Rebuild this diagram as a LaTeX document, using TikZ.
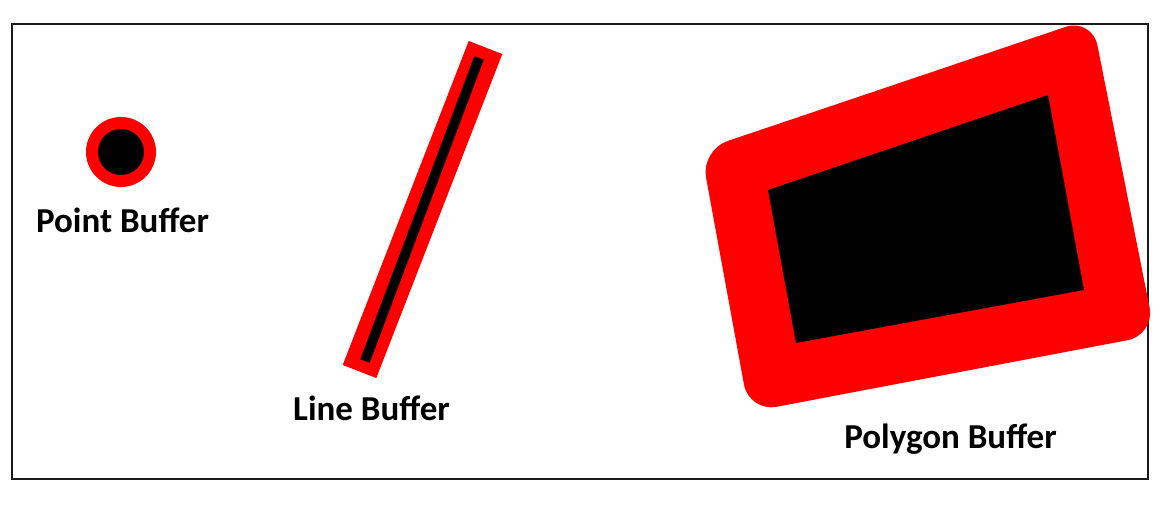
\documentclass[tikz,border=0pt]{standalone}
\usepackage{fontspec}
\setmainfont{Carlito}
\definecolor{bufRed}{HTML}{FF0000}
\definecolor{bufCore}{HTML}{000000}
\definecolor{bufFrame}{HTML}{1A1A1A}
\tikzset{
  buf frame/.style={draw=bufFrame, line width=1.3pt},
  buf zone/.style={fill=bufRed},
  buf core/.style={fill=bufCore},
  buf label/.style={font=\fontsize{35}{42}\selectfont\bfseries, text=bufCore, anchor=base, inner sep=0pt},
}

\begin{document}
\begin{tikzpicture}[x=1pt, y=-1pt]
  \useasboundingbox (0,0) rectangle (1166,510);
  % Outer frame
  \draw[buf frame] (12,24) rectangle (1148,479);
  % Point buffer: ring round a dot
  \fill[buf zone] (121,152) circle[radius=35];
  \fill[buf core] (121,152) circle[radius=23];
  \node[buf label] (pointlbl) at (122.5,233) {Point Buffer};
  % Line buffer: wide red band under the thin black line
  \coordinate (zoneTop) at (485.5,47.5);
  \coordinate (zoneBot) at (359.5,371.5);
  \coordinate (lineTop) at (479,58);
  \coordinate (lineBot) at (365,361);
  \draw[draw=bufRed, line width=36pt] (zoneTop) -- (zoneBot);
  \draw[draw=bufCore, line width=10pt] (lineTop) -- (lineBot);
  \node[buf label] (linelbl) at (371.5,420) {Line Buffer};
  % Polygon buffer: rounded outer zone, then the polygon itself
  \fill[buf zone, rounded corners=28pt]
    (701,150) -- (1092,18) -- (1155,335) -- (749,412) -- cycle;
  \fill[buf core] (768,190) -- (1048,95) -- (1084,290) -- (796,343) -- cycle;
  \node[buf label] (polylbl) at (950.5,448) {Polygon Buffer};
\end{tikzpicture}
\end{document}
